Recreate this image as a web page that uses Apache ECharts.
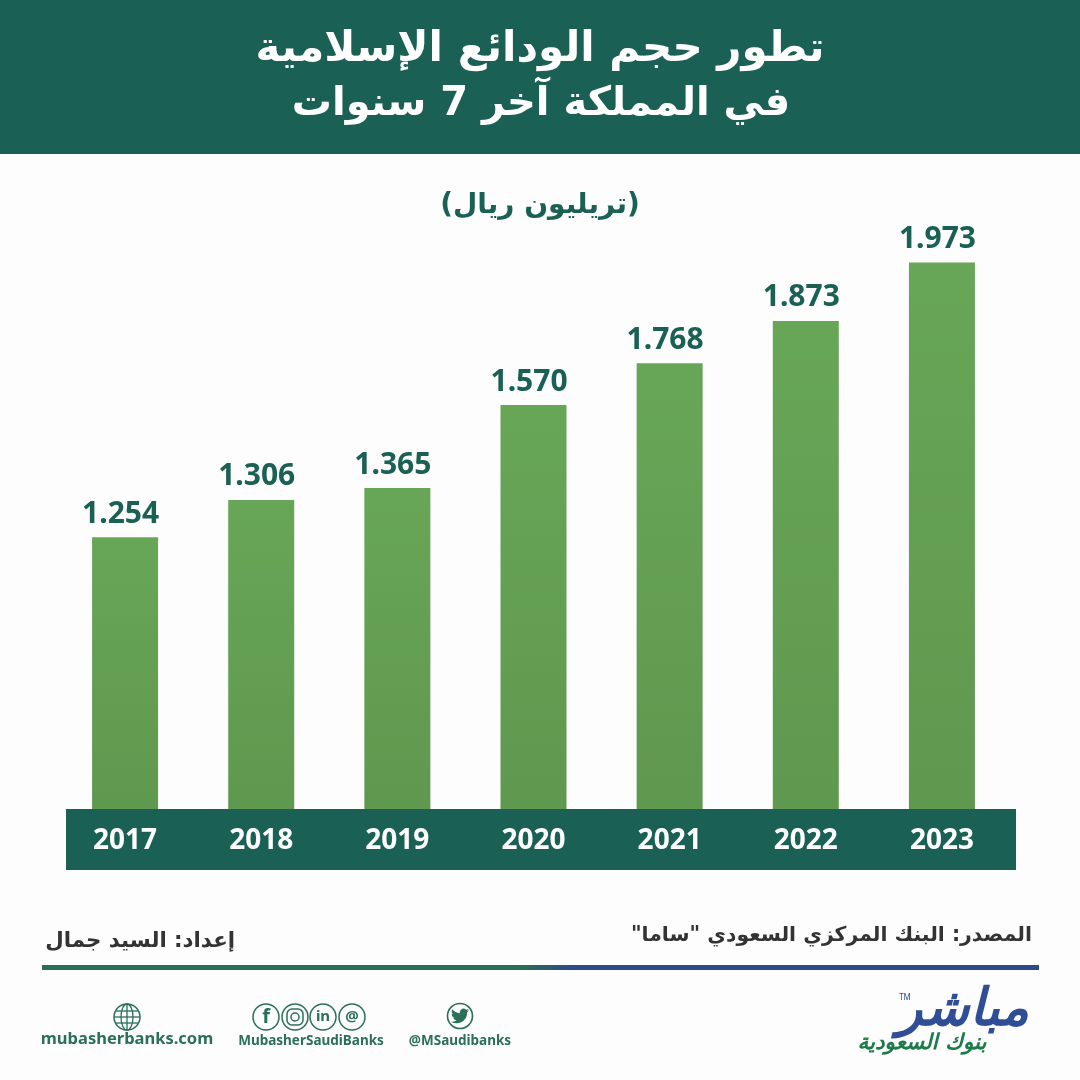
<!DOCTYPE html>
<html dir="rtl">
<head>
<meta charset="utf-8">
<style>html,body{margin:0;padding:0;background:#fdfdfd}#c{width:1080px;height:1080px}</style>
<script src="https://cdn.jsdelivr.net/npm/echarts@6/dist/echarts.min.js"></script>
</head>
<body>
<div id="c"></div>
<script>
var years = ['2017','2018','2019','2020','2021','2022','2023'];
var valueLabels = ['1.254','1.306','1.365','1.570','1.768','1.873','1.973'];
// The reference's bars are not drawn to scale with their printed numbers:
// these are the bar tops, on the chart's truncated axis.
var barLevels = [1.258,1.355,1.386,1.602,1.711,1.821,1.973];
var titleLines = ['تطور حجم الودائع الإسلامية','في المملكة آخر 7 سنوات'];
var unitText = '(تريليون ريال)';
var sourceText = 'المصدر: البنك المركزي السعودي "ساما"';
var authorText = 'إعداد: السيد جمال';

var DARK='#1a6054', FOOT='#2a7058', AR='"DejaVu Sans"', LAT='"Noto Sans"';
var BIRD='M23.953 4.57 a10 10 0 0 1 -2.825 .775 a4.958 4.958 0 0 0 2.163 -2.723 c-.951 .555 -2.005 .959 -3.127 1.184 a4.92 4.92 0 0 0 -8.384 4.482 C7.69 8.095 4.067 6.13 1.64 3.162 a4.822 4.822 0 0 0 -.666 2.475 c0 1.71 .87 3.213 2.188 4.096 a4.904 4.904 0 0 1 -2.228 -.616 v.06 a4.923 4.923 0 0 0 3.946 4.827 a4.996 4.996 0 0 1 -2.212 .085 a4.936 4.936 0 0 0 4.604 3.417 a9.867 9.867 0 0 1 -6.102 2.105 c-.39 0 -.779 -.023 -1.17 -.067 a13.995 13.995 0 0 0 7.557 2.209 c9.053 0 13.998 -7.496 13.998 -13.985 c0 -.21 0 -.42 -.015 -.63 A9.935 9.935 0 0 0 24 4.59 z';
echarts.graphic.registerShape('birdIcon', echarts.graphic.extendPath(BIRD, {}));

function txt(x,y,s,size,color,align,weight,font){
  return {type:'text',x:x,y:y,z:5,silent:true,style:{text:s,fill:color,font:(weight||'bold')+' '+size+'px '+(font||AR),textAlign:align||'center',textVerticalAlign:'middle'}};
}
function ring(cx,cy,r,lw){
  return {type:'circle',z:5,silent:true,shape:{cx:cx,cy:cy,r:r},style:{fill:'none',stroke:FOOT,lineWidth:lw||1.5}};
}
function ln(x1,y1,x2,y2){
  return {type:'line',z:5,silent:true,shape:{x1:x1,y1:y1,x2:x2,y2:y2},style:{stroke:FOOT,lineWidth:1.3}};
}
var gx=127, gy=1017;
var graphics=[
  {type:'rect',z:1,silent:true,shape:{x:0,y:0,width:1080,height:154},style:{fill:DARK}},
  {type:'rect',z:1,silent:true,shape:{x:66,y:809,width:950,height:61},style:{fill:DARK}},
  {type:'rect',z:1,silent:true,shape:{x:42,y:965,width:997,height:5},style:{fill:new echarts.graphic.LinearGradient(0,0,1,0,[{offset:0,color:'#2a6e55'},{offset:0.48,color:'#2a6e55'},{offset:0.53,color:'#2f4a8a'},{offset:1,color:'#2f4a8a'}])}},
  txt(540,50,titleLines[0],42,'#ffffff'),
  txt(541,105,titleLines[1],40,'#ffffff'),
  txt(540,206,unitText,28,DARK),
  txt(1032,936,sourceText,20.4,'#333333','right'),
  txt(235,941,authorText,21.3,'#333333','right'),
  // globe
  ring(gx,gy,13),
  {type:'ellipse',z:5,silent:true,shape:{cx:gx,cy:gy,rx:6,ry:13},style:{fill:'none',stroke:FOOT,lineWidth:1.3}},
  ln(gx,gy-13,gx,gy+13),ln(gx-13,gy,gx+13,gy),ln(gx-11,gy-6,gx+11,gy-6),ln(gx-11,gy+6,gx+11,gy+6),
  txt(127,1039,'mubasherbanks.com',16.5,FOOT,'center','bold',LAT),
  // social
  ring(266,1017,13),txt(266,1017,'f',20,FOOT,'center','bold',LAT),
  ring(295,1017,13),
  {type:'rect',z:5,silent:true,shape:{x:287,y:1009,width:16,height:16,r:5},style:{fill:'none',stroke:FOOT,lineWidth:1.5}},
  ring(295,1017,4),
  ring(323,1017,13),txt(323,1017,'in',15,FOOT,'center','bold',LAT),
  ring(352,1017,13),txt(352,1017,'@',15,FOOT,'center','bold',LAT),
  txt(311,1041,'MubasherSaudiBanks',13.5,FOOT,'center','bold',LAT),
  // bird
  ring(460,1016,12.5,1.6),
  {type:'birdIcon',z:5,silent:true,x:451,y:1007,scaleX:0.75,scaleY:0.75,style:{fill:FOOT}},
  txt(460,1041,'\u200E@MSaudibanks\u200E',13.5,FOOT,'center','bold',LAT),
  // logo
  txt(963,1011,'مباشر',52,'#2f4e96','center','italic bold'),
  txt(922,1043,'بنوك السعودية',21.5,'#1f7a4a','center','italic bold'),
  txt(905,998,'TM',8,'#2f4e96','center','normal',LAT)
];

var chart=echarts.init(document.getElementById('c'),null,{renderer:'canvas'});
chart.setOption({
  animation:false,
  backgroundColor:'#fdfdfd',
  graphic:graphics,
  grid:{left:57,width:953,top:233,height:576},
  xAxis:{type:'category',data:years,axisLine:{show:false},axisTick:{show:false},z:6,
    axisLabel:{color:'#ffffff',fontFamily:LAT,fontWeight:'bold',fontSize:28,margin:18}},
  yAxis:{type:'value',min:0.55,max:2.05,show:false,splitLine:{show:false}},
  series:[{type:'bar',data:barLevels,barWidth:66,z:3,
    itemStyle:{color:new echarts.graphic.LinearGradient(0,0,0,1,[{offset:0,color:'#68a657'},{offset:1,color:'#5f984f'}])},
    label:{show:true,position:'top',distance:8,offset:[-4.5,0],color:DARK,fontFamily:LAT,fontWeight:'bold',fontSize:30,
      formatter:function(p){return valueLabels[p.dataIndex];}}}]
});
</script>
</body>
</html>
